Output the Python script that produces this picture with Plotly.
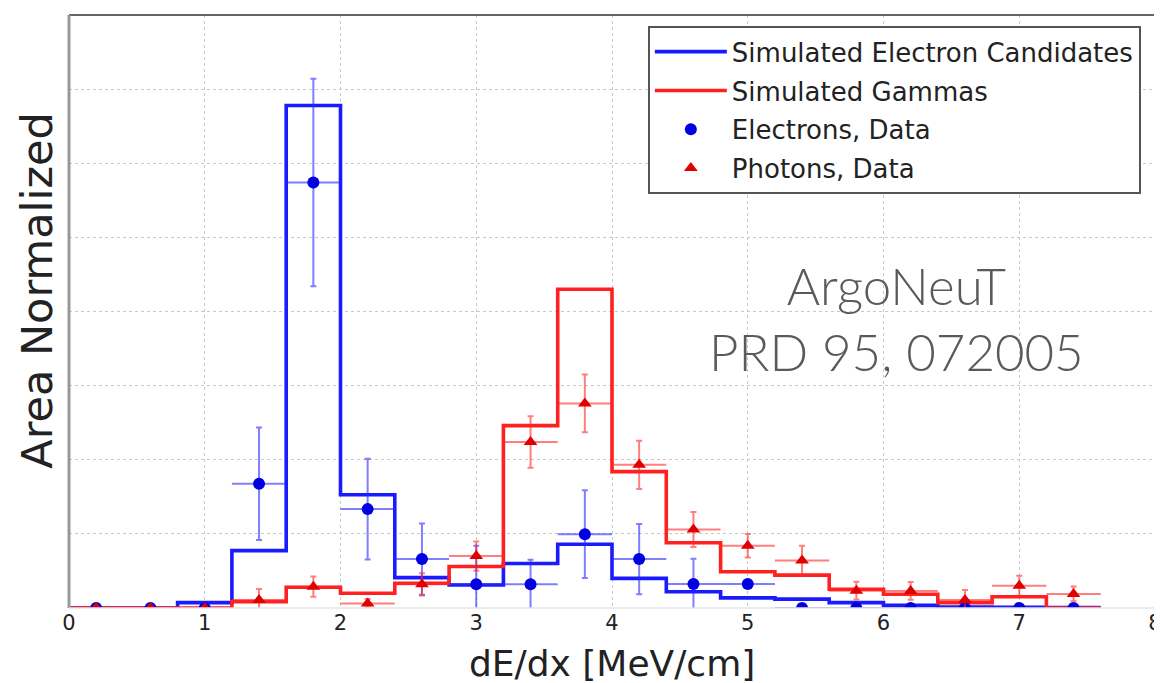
import plotly.graph_objects as go

# ---- data ----
bin_edges = [0.0, 0.4, 0.8, 1.2, 1.6, 2.0, 2.4, 2.8, 3.2, 3.6, 4.0, 4.4, 4.8, 5.2, 5.6, 6.0, 6.4, 6.8, 7.2, 7.6]
sim_electron = [0.0, 0.0, 0.0036, 0.0387, 0.339, 0.0764, 0.0205, 0.0155, 0.030, 0.043,
                0.020, 0.011, 0.0068, 0.006, 0.0036, 0.0018, 0.0006, 0.0005, 0.0003]
sim_gamma = [0.0, 0.0, 0.0, 0.0043, 0.014, 0.0099, 0.0167, 0.028, 0.123, 0.215,
             0.092, 0.044, 0.0245, 0.0222, 0.0126, 0.0093, 0.0036, 0.0076, 0.0]

data_x = [0.2, 0.6, 1.0, 1.4, 1.8, 2.2, 2.6, 3.0, 3.4, 3.8, 4.2, 4.6, 5.0, 5.4, 5.8, 6.2, 6.6, 7.0, 7.4]
data_xerr = [0.2] * 19
electron_y = [0, 0, 0, 0.0838, 0.287, 0.0667, 0.033, 0.016, 0.016, 0.0498,
              0.033, 0.0162, 0.0162, 0, 0, 0, 0, 0, 0]
electron_err = [0, 0, 0, 0.038, 0.07, 0.034, 0.024, 0.026, 0.0165, 0.0296,
                0.0237, 0.017, 0.0, 0, 0, 0, 0, 0, 0]
photon_y = [0, 0, 0, 0.0054, 0.0144, 0.003, 0.016, 0.035, 0.112, 0.138,
            0.0966, 0.053, 0.042, 0.032, 0.0117, 0.0115, 0.0054, 0.015, 0.0095]
photon_err = [0, 0, 0, 0.0075, 0.0068, 0.003, 0.0075, 0.0098, 0.0174, 0.0195,
              0.0163, 0.0118, 0.008, 0.01, 0.006, 0.006, 0.0068, 0.0068, 0.005]

x_ticks = [0, 1, 2, 3, 4, 5, 6, 7, 8]

BLUE = "#1a1aff"
RED = "#ff2020"

fig = go.Figure()

fig.add_trace(go.Scatter(
    x=bin_edges, y=sim_electron + [sim_electron[-1]], mode="lines",
    line=dict(color=BLUE, width=3.6, shape="hv"),
    name="Simulated Electron Candidates", legendgroup="a"))
fig.add_trace(go.Scatter(
    x=bin_edges, y=sim_gamma + [sim_gamma[-1]], mode="lines",
    line=dict(color=RED, width=3.6, shape="hv"),
    name="Simulated Gammas", legendgroup="b"))
fig.add_trace(go.Scatter(
    x=data_x, y=electron_y, mode="markers",
    marker=dict(color="#0000e0", symbol="circle", size=12),
    error_x=dict(type="data", array=data_xerr, color="rgba(40,40,255,0.6)", thickness=2, width=0),
    error_y=dict(type="data", array=electron_err, color="rgba(40,40,255,0.6)", thickness=2, width=3),
    name="Electrons, Data", legendgroup="c"))
fig.add_trace(go.Scatter(
    x=data_x, y=photon_y, mode="markers",
    marker=dict(color="#e00000", symbol="triangle-up", size=12),
    error_x=dict(type="data", array=data_xerr, color="rgba(255,40,40,0.6)", thickness=2, width=0),
    error_y=dict(type="data", array=photon_err, color="rgba(255,40,40,0.6)", thickness=2, width=3),
    name="Photons, Data", legendgroup="d"))

fig.update_layout(
    width=1154, height=675,
    margin=dict(l=61, r=7, t=7, b=75, autoexpand=False),
    paper_bgcolor="white", plot_bgcolor="white",
    showlegend=True,
    legend=dict(
        x=0.533, y=0.981, xanchor="left", yanchor="top",
        bgcolor="white", bordercolor="#555", borderwidth=2,
        font=dict(family="DejaVu Sans", size=26, color="#222"),
        tracegroupgap=2, itemwidth=72,
    ),
    xaxis=dict(
        range=[0, 8], tickvals=x_ticks, ticktext=[str(t) for t in x_ticks],
        showgrid=True, gridcolor="#c8c8c8", griddash="dot", gridwidth=1,
        zeroline=False, showline=False, ticks="", automargin=False,
        tickfont=dict(family="DejaVu Sans", size=21, color="#222"),
    ),
    yaxis=dict(
        range=[0, 0.4], dtick=0.05, showticklabels=False, automargin=False,
        showgrid=True, gridcolor="#c8c8c8", griddash="dot", gridwidth=1,
        zeroline=False, showline=False, ticks="",
    ),
    annotations=[
        dict(text="dE/dx [MeV/cm]", xref="paper", yref="paper", x=0.5, y=-0.093,
             xanchor="center", yanchor="middle", showarrow=False,
             font=dict(family="DejaVu Sans", size=36, color="#222")),
        dict(text="Area Normalized", xref="paper", yref="paper", x=-0.0295, y=0.535,
             xanchor="center", yanchor="middle", showarrow=False, textangle=-90,
             font=dict(family="DejaVu Sans", size=43, color="#222")),
        dict(text="ArgoNeuT<br>PRD 95, 072005", xref="paper", yref="paper", x=0.762, y=0.489,
             xanchor="center", yanchor="middle", showarrow=False, align="center",
             font=dict(family="Lato", size=51, color="#5a5a5a", weight=300)),
    ],
    shapes=[
        dict(type="line", xref="paper", yref="paper", x0=0, x1=1, y0=1, y1=1,
             line=dict(color="#666", width=2)),
        dict(type="line", xref="paper", yref="paper", x0=0, x1=0, y0=0, y1=1,
             line=dict(color="#999", width=3)),
        dict(type="line", xref="paper", yref="paper", x0=1, x1=1, y0=0, y1=1,
             line=dict(color="#ddd", width=1.5)),
        dict(type="line", xref="paper", yref="paper", x0=0, x1=1, y0=0, y1=0,
             line=dict(color="#e4e4e4", width=1.5)),
    ],
)

fig.write_html("out.html")
